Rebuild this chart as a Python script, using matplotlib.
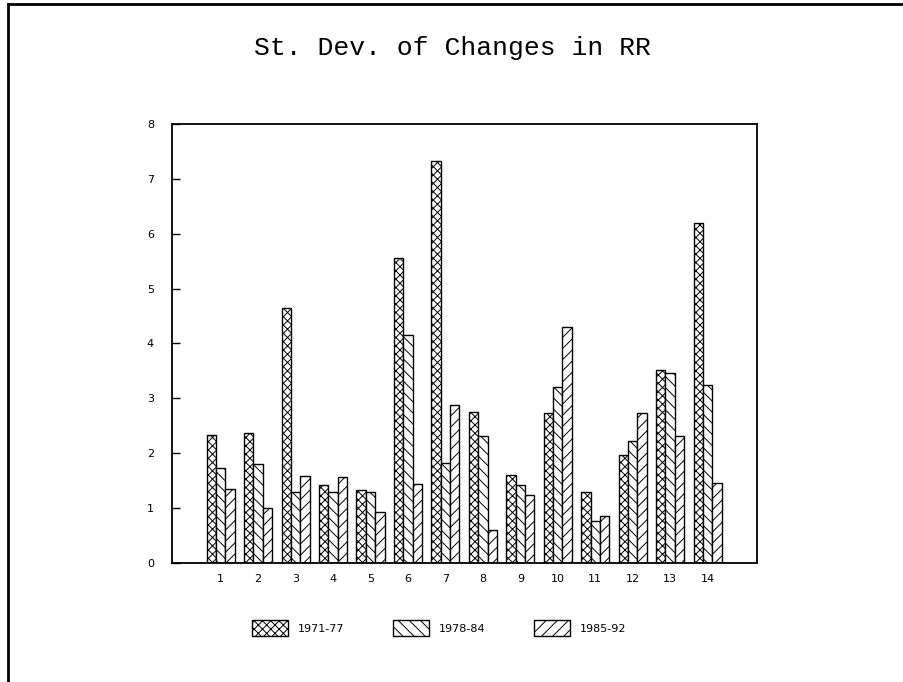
import numpy as np
import matplotlib
matplotlib.use('Agg')
import matplotlib.pyplot as plt
from matplotlib.lines import Line2D

plt.rcParams['font.family'] = 'DejaVu Sans'
plt.rcParams['hatch.linewidth'] = 0.7

# --- data ---
groups = np.arange(1, 15)
labels = ['1971-77', '1978-84', '1985-92']
s1971 = [2.33, 2.36, 4.64, 1.43, 1.33, 5.55, 7.33, 2.76, 1.61, 2.73, 1.29, 1.97, 3.51, 6.19]
s1978 = [1.74, 1.81, 1.29, 1.29, 1.30, 4.15, 1.83, 2.31, 1.42, 3.21, 0.76, 2.23, 3.46, 3.24]
s1985 = [1.34, 1.00, 1.59, 1.57, 0.93, 1.44, 2.87, 0.61, 1.24, 4.30, 0.86, 2.74, 2.31, 1.45]
yticks = [0, 1, 2, 3, 4, 5, 6, 7, 8]

series = [s1971, s1978, s1985]
hatches = ['xxxx', '\\\\\\', '///']

fig = plt.figure(figsize=(9.04, 6.82), dpi=100)
ax = fig.add_axes([0.1903, 0.1745, 0.6471, 0.6437])

w = 0.25
for i, (vals, h, lab) in enumerate(zip(series, hatches, labels)):
    ax.bar(groups + (i - 1) * w, vals, width=w, facecolor='white',
           edgecolor='black', linewidth=1.0, hatch=h, label=lab)

ax.set_xlim(-0.3, 15.32)
ax.set_ylim(0, 8)
ax.set_yticks(yticks)
ax.set_xticks(groups)
ax.set_xticklabels([str(g) for g in groups])
ax.tick_params(axis='y', direction='in', length=6, width=1, pad=13, labelsize=8)
ax.tick_params(axis='x', length=0, pad=8, labelsize=8)
for sp in ax.spines.values():
    sp.set_linewidth(1.3)

# thin, wide-set title like the plotter font
fig.text(0.5, 0.929, 'St. Dev. of Changes in RR', ha='center', va='center',
         fontsize=19, family='Liberation Mono')

fig.legend(loc='center', bbox_to_anchor=(0.486, 0.079), ncol=3, frameon=False,
           fontsize=8, handlelength=3.2, handleheight=1.8, handletextpad=0.9,
           columnspacing=4.4)

# frame around the page (left and top edges visible)
fig.add_artist(Line2D([0.009, 0.009], [0.0, 0.994], color='black', lw=2,
                      transform=fig.transFigure))
fig.add_artist(Line2D([0.009, 1.0], [0.994, 0.994], color='black', lw=2,
                      transform=fig.transFigure))

fig.savefig('out.png', dpi=100)
